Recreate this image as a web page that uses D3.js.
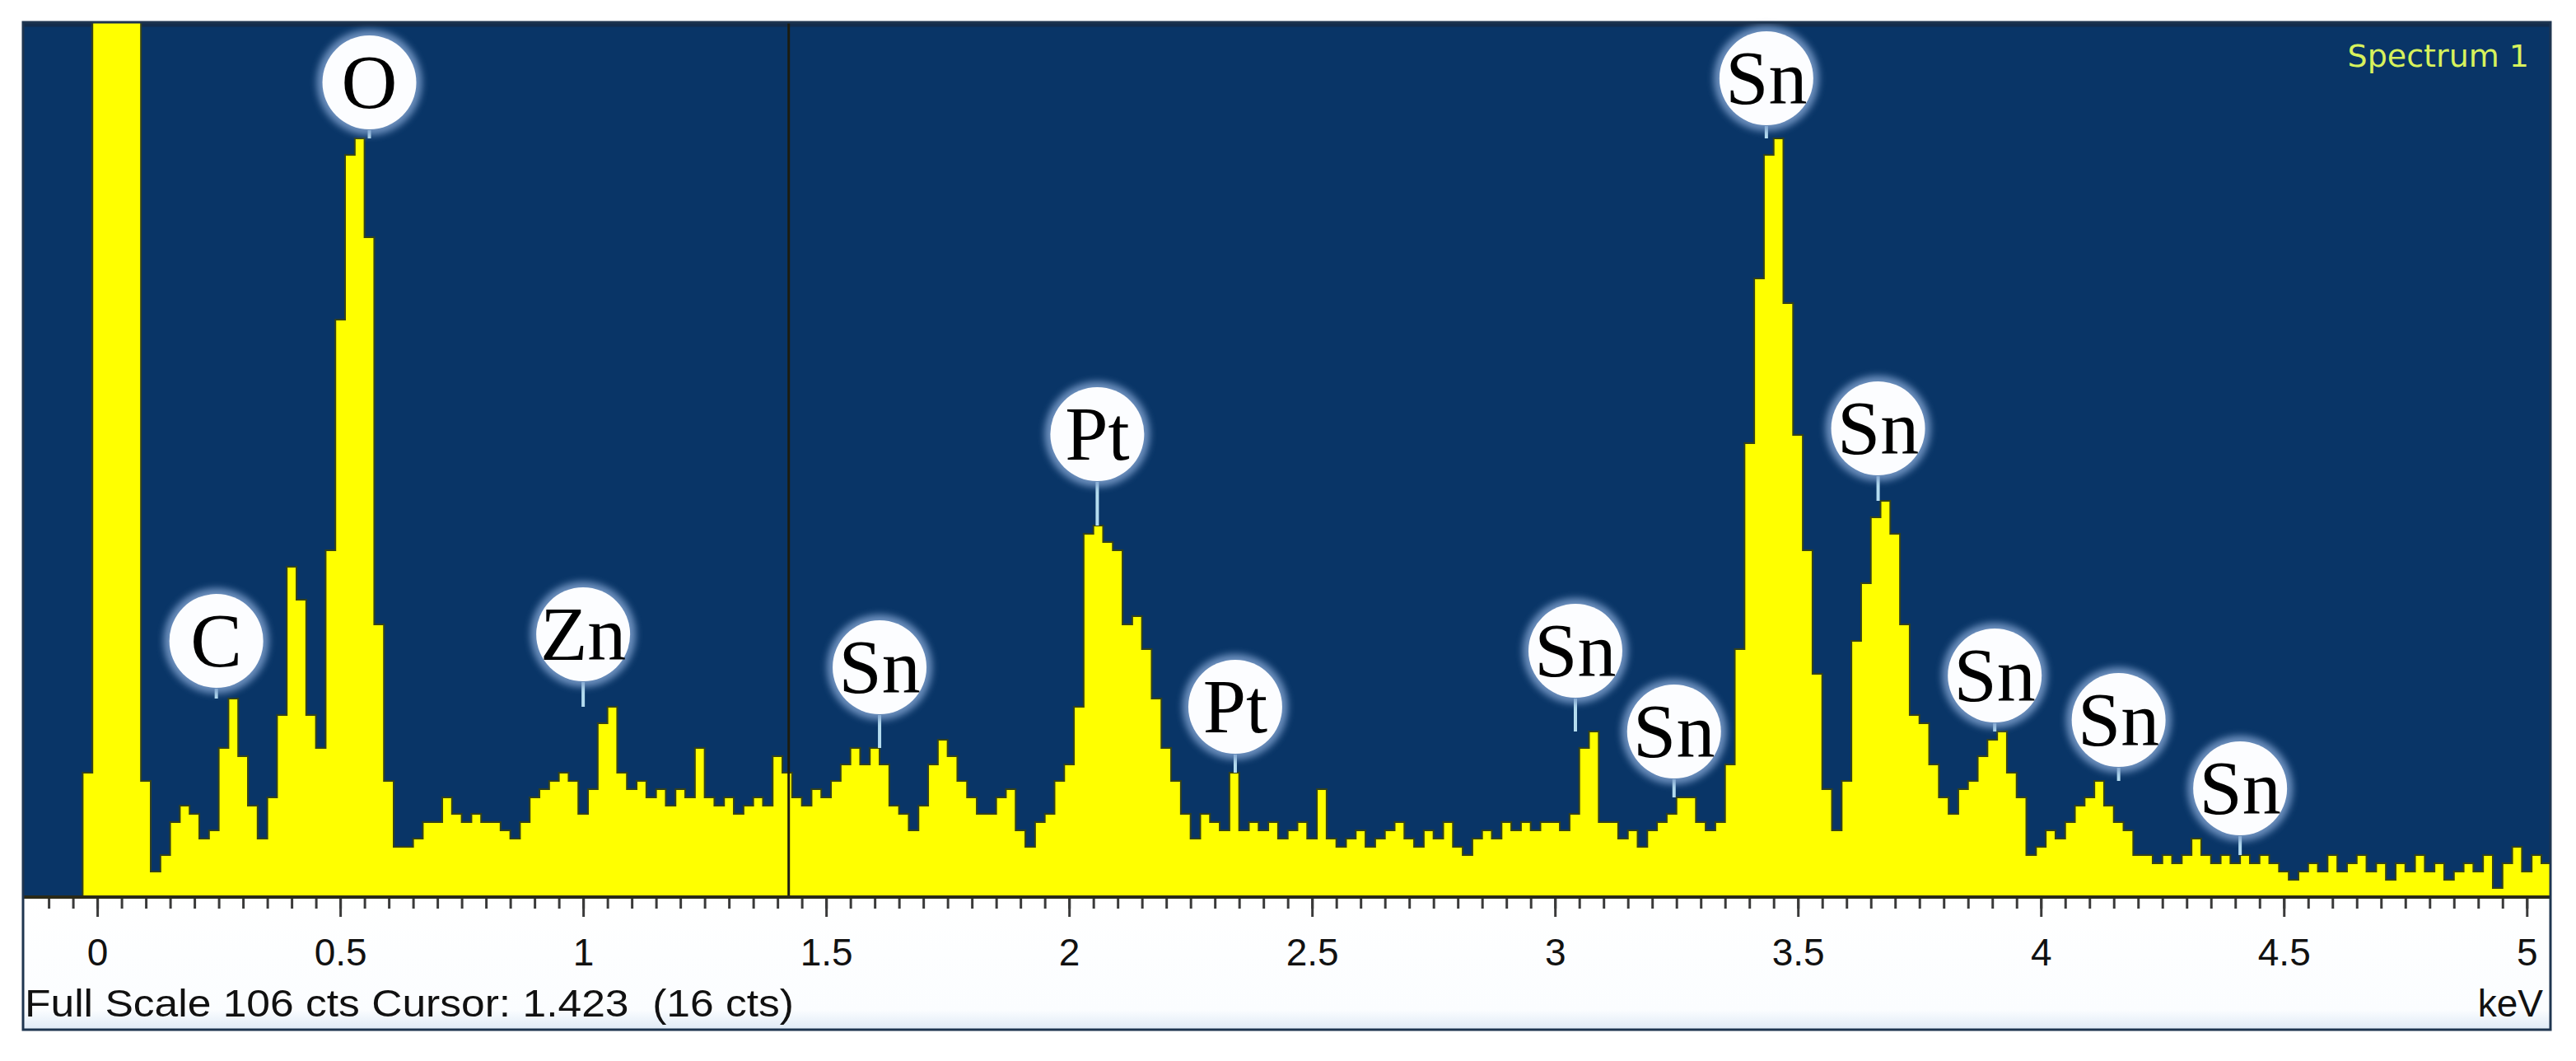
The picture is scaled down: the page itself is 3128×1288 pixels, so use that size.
<!DOCTYPE html>
<html>
<head>
<meta charset="utf-8">
<script src="https://cdn.jsdelivr.net/npm/d3@7"></script>
<style>
  body { margin: 0; background: #ffffff; }
  svg { display: block; }
</style>
</head>
<body>
<div class="viz-container"></div>
<script>
// EDS spectrum, 20 eV channels starting at -0.15 keV
const channelStart = -0.15;
const channelWidth = 0.02;
const counts = [
  0, 0, 0, 0, 0, 0, 15, 250, 250, 250, 250, 250, 14, 3, 5, 9, 11, 10, 7, 8,
  18, 24, 17, 11, 7, 12, 22, 40, 36, 22, 18, 42, 70, 90, 92, 80, 33, 14, 6, 6,
  7, 9, 9, 12, 10, 9, 10, 9, 9, 8, 7, 9, 12, 13, 14, 15, 14, 10, 13, 21,
  23, 15, 13, 14, 12, 13, 11, 13, 12, 18, 12, 11, 12, 10, 11, 12, 11, 17, 15, 12,
  11, 13, 12, 14, 16, 18, 16, 18, 16, 11, 10, 8, 11, 16, 19, 17, 14, 12, 10, 10,
  12, 13, 8, 6, 9, 10, 14, 16, 23, 44, 45, 43, 42, 33, 34, 30, 24, 18, 14, 10,
  7, 10, 9, 8, 15, 8, 9, 8, 9, 7, 8, 9, 7, 13, 7, 6, 7, 8, 6, 7,
  8, 9, 7, 6, 8, 7, 9, 6, 5, 7, 8, 7, 9, 8, 9, 8, 9, 9, 8, 10,
  18, 20, 9, 9, 7, 8, 6, 8, 9, 10, 12, 12, 9, 8, 9, 16, 30, 55, 75, 90,
  92, 72, 56, 42, 27, 13, 8, 14, 31, 38, 46, 48, 44, 33, 22, 21, 16, 12, 10, 13,
  14, 17, 19, 20, 15, 12, 5, 6, 8, 7, 9, 11, 12, 14, 11, 9, 8, 5, 5, 4,
  5, 4, 5, 7, 5, 4, 5, 4, 5, 4, 5, 4, 3, 2, 3, 4, 3, 5, 3, 4,
  5, 3, 4, 2, 4, 3, 5, 3, 4, 2, 3, 4, 3, 5, 1, 4, 6, 3, 5, 4
];

// peak labels: element, energy (keV), height of label centre (cts)
const labelNames = ["C", "O", "Zn", "Sn", "Pt", "Pt", "Sn", "Sn", "Sn", "Sn", "Sn", "Sn", "Sn"];
const labelKeV = [0.245, 0.56, 1.0, 1.61, 2.058, 2.342, 3.042, 3.245, 3.435, 3.665, 3.905, 4.16, 4.41];
const labelCts = [31, 98.8, 31.8, 27.8, 56.1, 23, 29.8, 20, 99.3, 56.8, 26.8, 21.4, 13.1];

const majorTicks = [0, 0.5, 1, 1.5, 2, 2.5, 3, 3.5, 4, 4.5, 5];
const tickLabels = ["0", "0.5", "1", "1.5", "2", "2.5", "3", "3.5", "4", "4.5", "5"];
const minorTicks = d3.range(-0.1, 5.05, 0.05).map(d => +d.toFixed(2));

const fullScale = 106;
const cursorKeV = 1.423;
const cursorCts = 16;
const spectrumName = "Spectrum 1";

let W = 3128, H = 1288;
let plotL = 29, plotR = 3096, plotT = 28, plotB = 1088, panelB = 1250;
let narrow = "'Liberation Sans Narrow', 'Arial Narrow', 'Liberation Sans', Arial, sans-serif";

let viz = d3.select(".viz-container")
  .append("svg")
    .attr("width", W)
    .attr("height", H);

let defs = viz.append("defs");
defs.append("clipPath").attr("id", "plotclip")
  .append("rect")
    .attr("x", plotL).attr("y", plotT)
    .attr("width", plotR - plotL).attr("height", plotB - plotT);
let glow = defs.append("filter").attr("id", "glow")
  .attr("x", "-30%").attr("y", "-30%").attr("width", "160%").attr("height", "160%");
glow.append("feGaussianBlur").attr("stdDeviation", 4);
let grad = defs.append("linearGradient").attr("id", "axisbg")
  .attr("x1", 0).attr("y1", 0).attr("x2", 0).attr("y2", 1);
grad.append("stop").attr("offset", "0%").attr("stop-color", "#ffffff");
grad.append("stop").attr("offset", "85%").attr("stop-color", "#fbfdff");
grad.append("stop").attr("offset", "100%").attr("stop-color", "#dfeaf6");

let x = d3.scaleLinear().domain([-0.151, 5.047]).range([plotL, plotR]);
let y = d3.scaleLinear().domain([0, fullScale]).range([plotB, plotT]);

// panel
viz.append("rect")
  .attr("x", plotL).attr("y", plotB)
  .attr("width", plotR - plotL).attr("height", panelB - plotB)
  .attr("fill", "url(#axisbg)");
viz.append("rect")
  .attr("x", plotL).attr("y", plotT)
  .attr("width", plotR - plotL).attr("height", plotB - plotT)
  .attr("fill", "#093567");
viz.append("line")
  .attr("x1", plotL).attr("x2", plotR).attr("y1", plotT + 2).attr("y2", plotT + 2)
  .attr("stroke", "#132c4c").attr("stroke-width", 5);

// spectrum
let points = counts.map((c, i) => [channelStart + i * channelWidth, c]);
points.push([channelStart + counts.length * channelWidth, counts[counts.length - 1]]);

let area = d3.area()
  .x(d => x(d[0]))
  .y0(y(0))
  .y1(d => y(d[1]))
  .curve(d3.curveStepAfter);

viz.append("path")
  .datum(points)
  .attr("clip-path", "url(#plotclip)")
  .attr("d", area)
  .attr("fill", "#ffff00")
  .attr("stroke", "#34421a")
  .attr("stroke-width", 2);

// cursor
viz.append("line")
  .attr("x1", x(cursorKeV)).attr("x2", x(cursorKeV))
  .attr("y1", plotT).attr("y2", plotB)
  .attr("stroke", "#1c1c10").attr("stroke-width", 3);

// axis
let axisMinor = d3.axisBottom(x).tickValues(minorTicks).tickSize(12).tickFormat("");
let axisMajor = d3.axisBottom(x).tickValues(majorTicks).tickSize(22).tickPadding(26)
  .tickFormat((d, i) => tickLabels[i]);

let gMinor = viz.append("g").attr("transform", "translate(0," + (plotB + 3) + ")").call(axisMinor);
let gMajor = viz.append("g").attr("transform", "translate(0," + (plotB + 3) + ")").call(axisMajor);
[gMinor, gMajor].forEach(g => {
  g.select(".domain").remove();
  g.selectAll(".tick line").attr("stroke", "#3a3a3a").attr("stroke-width", 3);
});
gMajor.selectAll(".tick text")
  .attr("fill", "#111")
  .style("font-family", narrow)
  .style("font-size", "46px");

viz.append("line")
  .attr("x1", plotL).attr("x2", plotR).attr("y1", plotB + 1).attr("y2", plotB + 1)
  .attr("stroke", "#2a2a18").attr("stroke-width", 4);

// peak labels
let labels = viz.selectAll(".peaklabel").data(labelNames).enter()
  .append("g")
    .attr("class", "peaklabel")
    .attr("transform", (d, i) => "translate(" + x(labelKeV[i]) + "," + y(labelCts[i]) + ")");

// highest channel close to the label, where its stem ends
function peakNear(e) {
  let c = Math.floor((e - channelStart) / channelWidth);
  return d3.max(counts.slice(Math.max(0, c - 3), c + 4));
}

labels.append("line")
  .attr("x1", 0).attr("x2", 0)
  .attr("y1", 58)
  .attr("y2", (d, i) => Math.max(62, y(peakNear(labelKeV[i])) - y(labelCts[i])))
  .attr("stroke", "#b4dcef").attr("stroke-width", 4);
labels.append("circle")
  .attr("r", 64)
  .attr("fill", "#7d9fcc")
  .attr("opacity", 0.85)
  .attr("filter", "url(#glow)");
labels.append("circle")
  .attr("r", 57)
  .attr("fill", "#fcfdff");
labels.append("text")
  .attr("text-anchor", "middle")
  .attr("y", 31)
  .style("font-family", "'Liberation Serif', 'Times New Roman', serif")
  .style("font-size", "94px")
  .attr("fill", "#000")
  .text(d => d);

// text
viz.append("text")
  .attr("x", 3071).attr("y", 81)
  .attr("text-anchor", "end")
  .attr("fill", "#d7f25c")
  .style("font-family", "'DejaVu Sans', Verdana, sans-serif")
  .style("font-size", "38px")
  .text(spectrumName);

viz.append("text")
  .attr("x", 30).attr("y", 1234)
  .attr("fill", "#111")
  .attr("textLength", 934)
  .attr("lengthAdjust", "spacingAndGlyphs")
  .style("white-space", "pre")
  .style("font-family", narrow)
  .style("font-size", "46px")
  .text("Full Scale " + fullScale + " cts Cursor: " + cursorKeV + "  (" + cursorCts + " cts)");

viz.append("text")
  .attr("x", 3088).attr("y", 1234)
  .attr("text-anchor", "end")
  .attr("fill", "#111")
  .style("font-family", narrow)
  .style("font-size", "46px")
  .text("keV");

// frame
viz.append("rect")
  .attr("x", plotL - 1).attr("y", plotT - 1)
  .attr("width", plotR - plotL + 2).attr("height", panelB + 1 - plotT)
  .attr("fill", "none")
  .attr("stroke", "#1e3550").attr("stroke-width", 3);
</script>
</body>
</html>
